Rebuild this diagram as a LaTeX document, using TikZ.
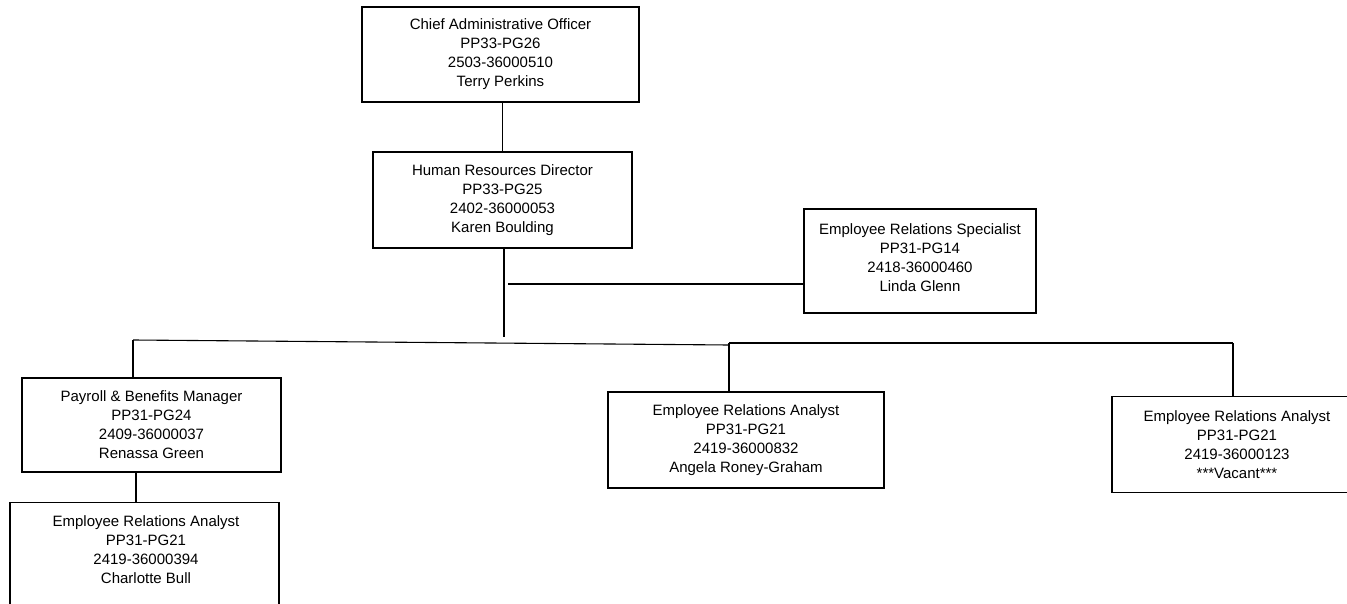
\documentclass[tikz,border=0pt]{standalone}
\usepackage{fontspec}
\setmainfont{Liberation Sans}
\begin{document}
\begin{tikzpicture}[x=1pt,y=-1pt,
  orgtext/.style={align=center, inner sep=0pt, font=\fontsize{15}{19}\selectfont},
  box/.style={orgtext, draw, line width=1.1pt, rectangle},
  frame/.style={draw, line width=1.1pt, rectangle, inner sep=0pt},
  link/.style={line width=1.1pt}]
\useasboundingbox (0,0) rectangle (1347,604);
\clip (0,0) rectangle (1347,604);

% position boxes
\node[box, minimum width=277pt, minimum height=95pt] (cao) at (500.5,54.5)
  {Chief Administrative Officer\\PP33-PG26\\2503-36000510\\Terry Perkins};
\node[box, minimum width=259pt, minimum height=96pt] (hr) at (502.5,200)
  {Human Resources Director\\PP33-PG25\\2402-36000053\\Karen Boulding};
\node[frame, minimum width=232pt, minimum height=104pt] (ers) at (920,261) {};
\node[orgtext] (erst) at (920,257.5)
  {Employee Relations Specialist\\PP31-PG14\\2418-36000460\\Linda Glenn};
\node[box, minimum width=259pt, minimum height=94pt] (pb) at (151.5,425)
  {Payroll \& Benefits Manager\\PP31-PG24\\2409-36000037\\Renassa Green};
\node[box, minimum width=276pt, minimum height=96pt] (era2) at (746,440)
  {Employee Relations Analyst\\PP31-PG21\\2419-36000832\\Angela Roney-Graham};
\node[box, minimum width=250pt, minimum height=96pt] (era3) at (1237,444.5)
  {Employee Relations Analyst\\PP31-PG21\\2419-36000123\\***Vacant***};
\node[frame, minimum width=269pt, minimum height=130pt, anchor=north] (era1) at (144.5,502) {};
\node[orgtext] (era1t) at (146,549.5)
  {Employee Relations Analyst\\PP31-PG21\\2419-36000394\\Charlotte Bull};

% reporting lines
\coordinate (hrdrop) at (504,337);
\coordinate (ersjoin) at (508,284);
\coordinate (busL) at (133,340);
\coordinate (busM) at (729,345);
\coordinate (busM2) at (729,343);
\coordinate (busR) at (1233,343);
\coordinate (pbdrop) at (136,472);

\draw[link] (hr.north |- cao.south) -- (hr.north);
\draw[link] (hrdrop |- hr.south) -- (hrdrop);
\draw[link] (ersjoin) -- (ersjoin -| ers.west);
\draw[link] (busL) -- (busM);
\draw[link] (busM2) -- (busR);
\draw[link] (busL) -- (busL |- pb.north);
\draw[link] (busM2) -- (busM2 |- era2.north);
\draw[link] (busR) -- (busR |- era3.north);
\draw[link] (pbdrop |- pb.south) -- (pbdrop |- era1.north);
\end{tikzpicture}
\end{document}
